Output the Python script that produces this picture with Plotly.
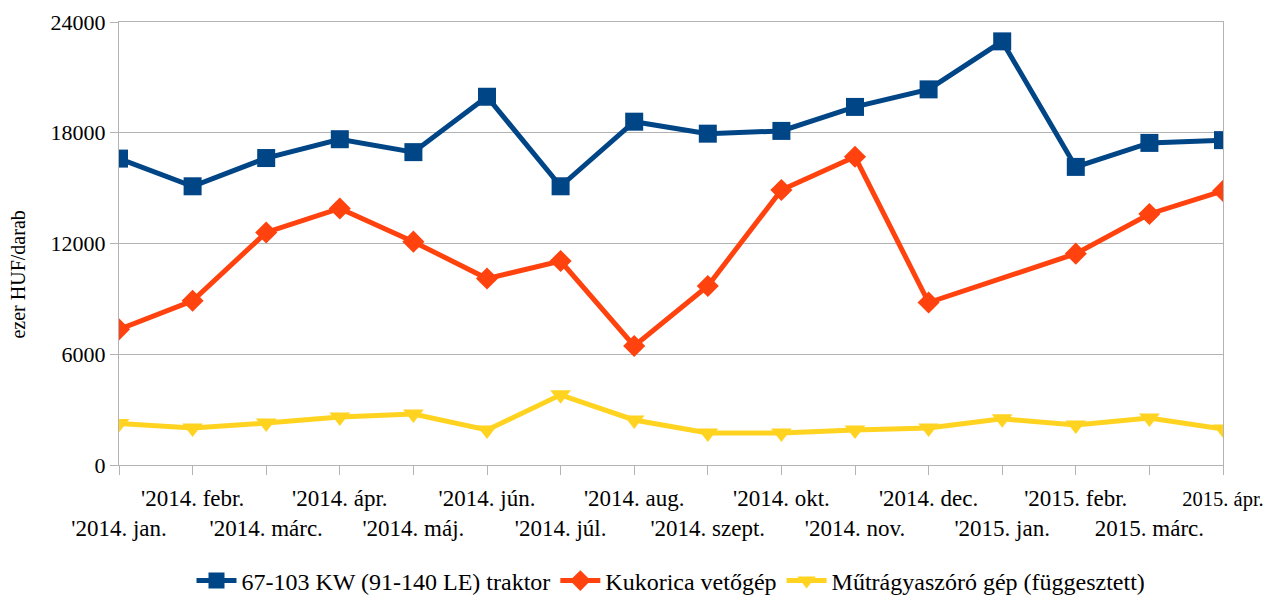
import plotly.graph_objects as go

categories = ["'2014. jan.", "'2014. febr.", "'2014. márc.", "'2014. ápr.", "'2014. máj.",
              "'2014. jún.", "'2014. júl.", "'2014. aug.", "'2014. szept.", "'2014. okt.",
              "'2014. nov.", "'2014. dec.", "'2015. jan.", "'2015. febr.", "2015. márc.",
              "2015. ápr."]
traktor = [16600, 15100, 16630, 17650, 16950, 19950, 15100, 18600, 17950, 18100,
           19400, 20350, 22950, 16150, 17450, 17600]
kukorica = [7350, 8900, 12600, 13900, 12100, 10100, 11050, 6450, 9700, 14900,
            16700, 8800, None, 11450, 13600, 14850]
mutragya = [2250, 2000, 2270, 2600, 2760, 1900, 3800, 2440, 1730, 1730,
            1900, 2000, 2500, 2170, 2550, 1950]
names = ["67-103 KW (91-140 LE) traktor", "Kukorica vetőgép", "Műtrágyaszóró gép (függesztett)"]
y_ticks = [0, 6000, 12000, 18000, 24000]
y_title = "ezer HUF/darab"

FONT = "Liberation Serif"
x = list(range(len(categories)))
ticktext = []
for i, c in enumerate(categories):
    label = c
    if i == len(categories) - 1:
        label = '<span style="font-size:20.5px">' + c + "</span>"
    ticktext.append(("<br>" + label) if i % 2 == 0 else label)

fig = go.Figure()
fig.add_trace(go.Scatter(x=x, y=traktor, name=names[0], mode="lines+markers",
                         line=dict(color="#004586", width=5),
                         marker=dict(symbol="square", size=18, color="#004586")))
fig.add_trace(go.Scatter(x=x, y=kukorica, name=names[1], mode="lines+markers",
                         connectgaps=True,
                         line=dict(color="#ff420e", width=5),
                         marker=dict(symbol="diamond", size=17, color="#ff420e")))
fig.add_trace(go.Scatter(x=x, y=mutragya, name=names[2], mode="lines+markers",
                         line=dict(color="#ffd320", width=5),
                         marker=dict(symbol="triangle-down", size=18, color="#ffd320")))

fig.add_annotation(text=y_title, xref="paper", yref="paper", x=0, y=0.43,
                   xanchor="center", yanchor="middle", xshift=-101, textangle=-90,
                   showarrow=False, font=dict(family=FONT, size=20, color="black"))

fig.update_layout(
    width=1273, height=589,
    margin=dict(l=111, r=58, t=14, b=132, autoexpand=False),
    paper_bgcolor="white", plot_bgcolor="white",
    font=dict(family=FONT, size=20, color="black"),
    showlegend=True,
    legend=dict(orientation="h", x=0.5, xanchor="center", y=-0.211, yanchor="top",
                font=dict(family=FONT, size=24, color="black"), itemwidth=40),
    xaxis=dict(range=[0, len(categories) - 1], tickmode="array", tickvals=x, ticktext=ticktext,
               tickangle=0, automargin=False, ticklabelstandoff=3, ticklabeloverflow="allow",
               showgrid=False, ticks="outside", ticklen=9, tickcolor="#b3b3b3",
               showline=True, linecolor="#b3b3b3", mirror=True, zeroline=False,
               tickfont=dict(family=FONT, size=23, color="black")),
    yaxis=dict(range=[0, 24000], tickmode="array", tickvals=y_ticks,
               ticktext=[str(v) for v in y_ticks], automargin=False,
               showgrid=True, gridcolor="#b3b3b3", ticks="outside", ticklen=8, tickcolor="#b3b3b3",
               showline=True, linecolor="#b3b3b3", mirror=True, zeroline=False,
               tickfont=dict(family=FONT, size=22, color="black")),
)
fig.write_html("out.html")
